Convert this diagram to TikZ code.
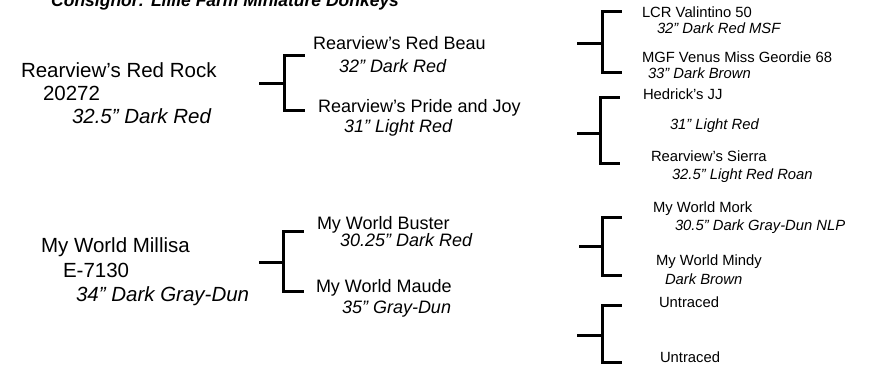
\documentclass[tikz,border=0pt]{standalone}
\usepackage{fontspec}
\setmainfont{Liberation Sans}
\begin{document}
\begin{tikzpicture}[x=1pt,y=-1pt,
  txt/.style={anchor=mid west,inner sep=0pt,outer sep=0pt},
  gA/.style={txt,font=\fontsize{20.5}{23}\selectfont},
  gAi/.style={gA,font=\fontsize{20.5}{23}\selectfont\itshape},
  gB/.style={txt,font=\fontsize{18}{21}\selectfont},
  gBi/.style={gB,font=\fontsize{18}{21}\selectfont\itshape},
  gC/.style={txt,font=\fontsize{14.8}{17}\selectfont},
  gCi/.style={gC,font=\fontsize{14.8}{17}\selectfont\itshape},
  brk/.style={line width=3pt,line cap=rect,line join=miter}]
\useasboundingbox (0,0) rectangle (869,368);
\fill[white] (0,0) rectangle (869,368);

% title (partly cut off at the top)
\node[anchor=base west,inner sep=0pt,font=\fontsize{17.5}{20}\selectfont\bfseries\itshape] (title) at (51,6) {Consignor: Lillie Farm Miniature Donkeys};

% generation 0
\node[gA]  (rr1) at (21,75)  {Rearview's Red Rock};
\node[gA]  (rr2) at (43,98)  {20272};
\node[gAi] (rr3) at (72,121) {32.5" Dark Red};
\node[gA]  (mm1) at (41,250) {My World Millisa};
\node[gA]  (mm2) at (63,275) {E-7130};
\node[gAi] (mm3) at (76,299) {34" Dark Gray-Dun};

% generation 1
\node[gB]  (rb1) at (313,47)  {Rearview's Red Beau};
\node[gBi] (rb2) at (339,70)  {32" Dark Red};
\node[gB]  (pj1) at (318,110) {Rearview's Pride and Joy};
\node[gBi] (pj2) at (344,130) {31" Light Red};
\node[gB]  (wb1) at (317,227) {My World Buster};
\node[gBi] (wb2) at (340,244) {30.25" Dark Red};
\node[gB]  (wm1) at (316,290) {My World Maude};
\node[gBi] (wm2) at (342,311) {35" Gray-Dun};

% generation 2
\node[gC]  (lv1) at (642,15)  {LCR Valintino 50};
\node[gCi] (lv2) at (657,31)  {32" Dark Red MSF};
\node[gC]  (mg1) at (642,60)  {MGF Venus Miss Geordie 68};
\node[gCi] (mg2) at (648,76)  {33" Dark Brown};
\node[gC]  (hj1) at (643,97)  {Hedrick's JJ};
\node[gCi] (hj2) at (670,127) {31" Light Red};
\node[gC]  (rs1) at (651,159) {Rearview's Sierra};
\node[gCi] (rs2) at (672,177) {32.5" Light Red Roan};
\node[gC]  (wk1) at (653,210) {My World Mork};
\node[gCi] (wk2) at (675,228) {30.5" Dark Gray-Dun NLP};
\node[gC]  (wy1) at (656,263) {My World Mindy};
\node[gCi] (wy2) at (665,282) {Dark Brown};
\node[gC]  (un1) at (659,305) {Untraced};
\node[gC]  (un2) at (660,360) {Untraced};

% bracket coordinates
\coordinate (a1) at (260,83);  \coordinate (a2) at (284,83);
\coordinate (a3) at (303,55);  \coordinate (a4) at (284,55);
\coordinate (a5) at (284,110); \coordinate (a6) at (303,110);

\coordinate (b1) at (260,262); \coordinate (b2) at (283,262);
\coordinate (b3) at (302,231); \coordinate (b4) at (283,231);
\coordinate (b5) at (283,291); \coordinate (b6) at (302,291);

\coordinate (c1) at (578,43);  \coordinate (c2) at (602,43);
\coordinate (c3) at (620,11);  \coordinate (c4) at (602,11);
\coordinate (c5) at (602,72);  \coordinate (c6) at (620,72);

\coordinate (d1) at (578,133); \coordinate (d2) at (600,133);
\coordinate (d3) at (618,97);  \coordinate (d4) at (600,97);
\coordinate (d5) at (600,163); \coordinate (d6) at (618,163);

\coordinate (e1) at (580,246); \coordinate (e2) at (602,246);
\coordinate (e3) at (620,217); \coordinate (e4) at (602,217);
\coordinate (e5) at (602,275); \coordinate (e6) at (620,275);

\coordinate (f1) at (578,335); \coordinate (f2) at (602,335);
\coordinate (f3) at (620,305); \coordinate (f4) at (602,305);
\coordinate (f5) at (602,362); \coordinate (f6) at (620,362);

\foreach \k in {a,b,c,d,e,f}{
  \draw[brk] (\k1) -- (\k2);
  \draw[brk] (\k3) -- (\k4) -- (\k5) -- (\k6);
}
\end{tikzpicture}
\end{document}
